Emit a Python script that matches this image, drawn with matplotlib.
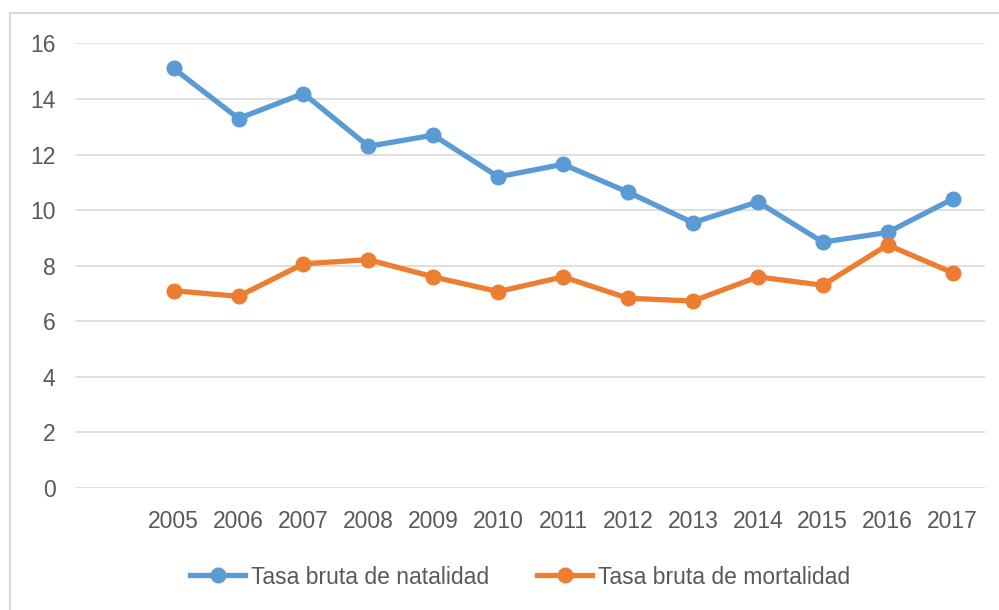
import matplotlib.pyplot as plt
from matplotlib.lines import Line2D

# --- data ---
years = ["", "2005", "2006", "2007", "2008", "2009", "2010", "2011",
         "2012", "2013", "2014", "2015", "2016", "2017"]
natalidad = [None, 15.1, 13.3, 14.2, 12.3, 12.7, 11.2, 11.65,
             10.65, 9.55, 10.3, 8.85, 9.2, 10.4]
mortalidad = [None, 7.1, 6.9, 8.07, 8.22, 7.6, 7.07, 7.6,
              6.83, 6.73, 7.6, 7.3, 8.75, 7.75]
yticks = [0, 2, 4, 6, 8, 10, 12, 14, 16]

blue = "#5B9BD5"
orange = "#ED7D31"
grey_txt = "#595959"
grid_col = "#D9D9D9"

plt.rcParams['font.family'] = ['Liberation Sans', 'DejaVu Sans']

fig = plt.figure(figsize=(9.99, 6.10), dpi=100)
ax = fig.add_axes([76.3 / 999, 0.2, (985 - 76.3) / 999, 0.7287])

x = list(range(len(years)))
nat_x = [i for i, v in zip(x, natalidad) if v is not None]
nat_y = [v for v in natalidad if v is not None]
mor_x = [i for i, v in zip(x, mortalidad) if v is not None]
mor_y = [v for v in mortalidad if v is not None]

ax.plot(nat_x, nat_y, color=blue, lw=3.8, marker='o', ms=10.5,
        label="Tasa bruta de natalidad", zorder=3)
ax.plot(mor_x, mor_y, color=orange, lw=3.8, marker='o', ms=10.5,
        label="Tasa bruta de mortalidad", zorder=3)

ax.set_xlim(-0.5, len(years) - 0.5)
ax.set_ylim(0, 16)
ax.set_yticks(yticks)
ax.set_xticks(x)
ax.set_xticklabels(years)
ax.yaxis.grid(True, color=grid_col, lw=1.2)
ax.set_axisbelow(True)
for s in ax.spines.values():
    s.set_visible(False)
ax.tick_params(axis='both', length=0, labelsize=16.5, colors=grey_txt)
ax.tick_params(axis='y', pad=15)
ax.tick_params(axis='x', pad=16)

# legend below the plot
fig.legend(loc='center', bbox_to_anchor=(520 / 999, 1 - 577 / 610), ncol=2,
           frameon=False, fontsize=16.5, labelcolor=grey_txt,
           handlelength=2.4, handletextpad=0.25, columnspacing=2.1)

# outer chart border (light grey, running off right and bottom)
fig.add_artist(Line2D([10 / 999, 1.0], [1 - 13 / 610, 1 - 13 / 610],
                      color=grid_col, lw=1.5, transform=fig.transFigure))
fig.add_artist(Line2D([10 / 999, 10 / 999], [0.0, 1 - 13 / 610],
                      color=grid_col, lw=1.5, transform=fig.transFigure))

fig.savefig("out.png", dpi=100)
